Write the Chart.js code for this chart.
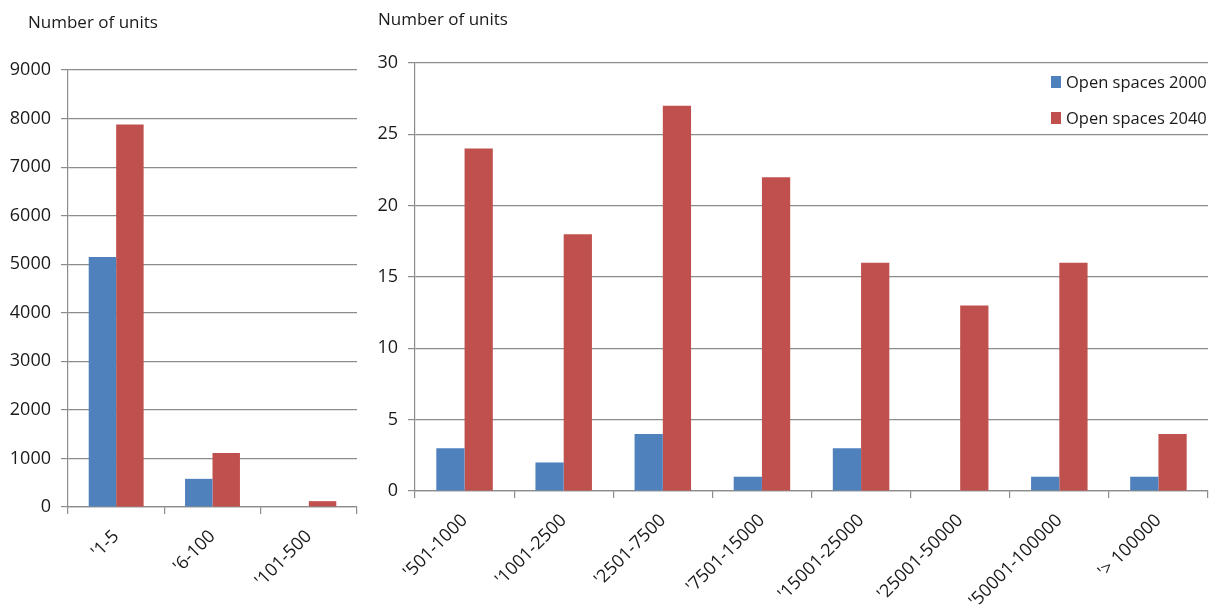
<!DOCTYPE html>
<html>
<head>
<meta charset="utf-8">
<script src="https://cdn.jsdelivr.net/npm/chart.js@4/dist/chart.umd.min.js"></script>
<style>
  body { margin: 0; background: #fff; font-family: "Open Sans", sans-serif; }
  #wrap { position: relative; width: 1216px; height: 614px; }
  .box { position: absolute; top: 0; height: 614px; }
  .ytitle { position: absolute; font-size: 17px; color: #1a1a1a; }
  #legend { position: absolute; left: 1051px; top: 70px; font-size: 16.5px; color: #1a1a1a; }
  #legend div { height: 36px; display: flex; align-items: flex-start; }
  #legend span.sw { display: inline-block; width: 10px; height: 12px; margin: 6px 5px 0 0; }
</style>
</head>
<body>
<div id="wrap">
  <div class="box" style="left:0;width:365px"><canvas id="left-chart"></canvas></div>
  <div class="box" style="left:365px;width:851px"><canvas id="right-chart"></canvas></div>
  <div class="ytitle" style="left:28px;top:10px">Number of units</div>
  <div class="ytitle" style="left:378px;top:7px">Number of units</div>
  <div id="legend"></div>
</div>
<script>
// --- ข้อมูล ---
const SERIES_NAMES = ['Open spaces 2000', 'Open spaces 2040'];
const SERIES_COLORS = ['#4F81BD', '#C0504D'];

const SMALL_CATEGORIES = ["'1-5", "'6-100", "'101-500"];
const SMALL_2000 = [5150, 580, 0];
const SMALL_2040 = [7880, 1110, 120];

const LARGE_CATEGORIES = ["'501-1000", "'1001-2500", "'2501-7500", "'7501-15000",
    "'15001-25000", "'25001-50000", "'50001-100000", "'> 100000"];
const LARGE_2000 = [3, 2, 4, 1, 3, 0, 1, 1];
const LARGE_2040 = [24, 18, 27, 22, 16, 13, 16, 4];

const SMALL_TICKS = { max: 9000, step: 1000 };
const LARGE_TICKS = { max: 30, step: 5 };

const FONT = { family: '"Open Sans", sans-serif', size: 18 };
const GRID = '#8c8c8c';
const TEXT = '#1a1a1a';

function makeChart(canvasId, labels, a, b, ticks, yWidth, xHeight, padRight, padTop) {
    return new Chart(document.getElementById(canvasId), {
        type: 'bar',
        data: {
            labels: labels,
            datasets: [
                { label: SERIES_NAMES[0], data: a, backgroundColor: SERIES_COLORS[0] },
                { label: SERIES_NAMES[1], data: b, backgroundColor: SERIES_COLORS[1] }
            ]
        },
        options: {
            responsive: true,
            maintainAspectRatio: false,
            animation: false,
            layout: { padding: { left: 0, right: padRight, top: padTop, bottom: 0 } },
            datasets: { bar: { categoryPercentage: 0.57, barPercentage: 1 } },
            scales: {
                y: {
                    min: 0,
                    max: ticks.max,
                    ticks: {
                        stepSize: ticks.step, color: TEXT, font: FONT, padding: 10,
                        callback: v => String(v) // ไม่ใส่ comma
                    },
                    grid: { color: GRID, lineWidth: 1.2, tickLength: 7 },
                    border: { color: GRID, width: 1.2 },
                    afterFit: s => { s.width = yWidth; }
                },
                x: {
                    ticks: { color: TEXT, font: FONT, minRotation: 45, maxRotation: 45, padding: 12 },
                    grid: { color: GRID, lineWidth: 1.2, drawOnChartArea: false, tickLength: 7 },
                    border: { color: GRID, width: 1.2 },
                    afterFit: s => { s.height = xHeight; }
                }
            },
            plugins: {
                legend: { display: false },
                tooltip: { enabled: false }
            }
        }
    });
}

makeChart('left-chart', SMALL_CATEGORIES, SMALL_2000, SMALL_2040, SMALL_TICKS, 68, 107, 8, 70);
makeChart('right-chart', LARGE_CATEGORIES, LARGE_2000, LARGE_2040, LARGE_TICKS, 50, 123, 8, 63);

// --- legend (HTML) ---
const legendEl = document.getElementById('legend');
SERIES_NAMES.forEach((name, i) => {
    const row = document.createElement('div');
    row.innerHTML = `<span class="sw" style="background:${SERIES_COLORS[i]}"></span>${name}`;
    legendEl.appendChild(row);
});
</script>
</body>
</html>
